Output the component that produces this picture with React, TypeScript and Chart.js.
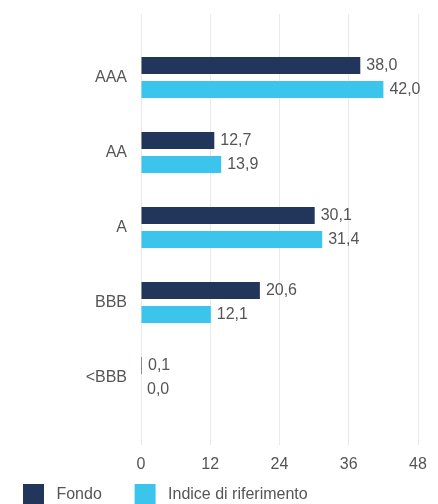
import React, { useEffect, useRef } from "react";
import { Chart, registerables } from "chart.js";

Chart.register(...registerables);

const categories = ["AAA", "AA", "A", "BBB", "<BBB"];
const fondo = [38.0, 12.7, 30.1, 20.6, 0.1];
const indice = [42.0, 13.9, 31.4, 12.1, 0.0];
const seriesNames = ["Fondo", "Indice di riferimento"];
const xTickStep = 12;
const xMin = 0;
const xMax = 48;

const FONT = "'Liberation Sans', Arial, sans-serif";
const TEXT = "#555555";
const DARK = "#22355b";
const CYAN = "#3bc5ec";
const GRID = "#e9e9e9";

const valueLabels = {
  id: "valueLabels",
  afterDatasetsDraw(chart: any) {
    const ctx = chart.ctx;
    ctx.save();
    ctx.font = `16px ${FONT}`;
    ctx.fillStyle = TEXT;
    ctx.textBaseline = "middle";
    ctx.textAlign = "left";
    chart.data.datasets.forEach((ds: any, di: number) => {
      const meta = chart.getDatasetMeta(di);
      meta.data.forEach((el: any, i: number) => {
        const v = ds.data[i].x as number;
        ctx.fillText(v.toFixed(1).replace(".", ","), el.x + 6, el.y);
      });
    });
    ctx.restore();
  },
};

export default function App() {
  const ref = useRef<HTMLCanvasElement | null>(null);

  useEffect(() => {
    document.body.style.overflow = "hidden";
    document.documentElement.style.overflow = "hidden";
    if (!ref.current) return;
    const chart = new Chart(ref.current, {
      type: "bar",
      data: {
        datasets: [
          {
            label: seriesNames[0],
            data: fondo.map((v, i) => ({ x: v, y: i })),
            backgroundColor: DARK,
            borderWidth: 0,
            minBarLength: 1,
            categoryPercentage: 0.64,
            barPercentage: 0.71,
          },
          {
            label: seriesNames[1],
            data: indice.map((v, i) => ({ x: v, y: i })),
            backgroundColor: CYAN,
            borderWidth: 0,
            categoryPercentage: 0.64,
            barPercentage: 0.71,
          },
        ],
      },
      options: {
        indexAxis: "y",
        animation: false,
        responsive: true,
        maintainAspectRatio: false,
        layout: { padding: { top: 6, right: 12, bottom: 0, left: 0 } },
        scales: {
          y: {
            type: "linear",
            reverse: true,
            min: -0.847,
            max: 4.9,
            offset: false,
            afterBuildTicks: (axis: any) => {
              axis.ticks = categories.map((_, i) => ({ value: i }));
            },
            afterFit: (axis: any) => {
              axis.width = 133;
              axis.paddingTop = 0;
              axis.paddingBottom = 0;
            },
            ticks: {
              callback: (v: any) => categories[v as number],
              padding: 14,
              color: TEXT,
              font: { family: FONT, size: 16 },
            },
            grid: { display: false, drawTicks: false, offset: false },
            border: { display: false },
          },
          x: {
            type: "linear",
            min: xMin,
            max: xMax,
            afterFit: (axis: any) => {
              axis.height = 24;
              axis.paddingLeft = 0;
              axis.paddingRight = 0;
            },
            ticks: {
              stepSize: xTickStep,
              padding: 16,
              color: TEXT,
              font: { family: FONT, size: 16, lineHeight: 0.5 },
            },
            grid: { color: GRID, drawTicks: false, lineWidth: 1 },
            border: { display: false },
          },
        },
        plugins: {
          tooltip: { enabled: false },
          legend: {
            position: "bottom",
            align: "start",
            labels: {
              boxWidth: 21,
              boxHeight: 21,
              padding: 15,
              color: TEXT,
              font: { family: FONT, size: 16 },
              generateLabels: (c: any) => {
                const items = (Chart.defaults.plugins.legend.labels as any).generateLabels(c);
                return items.map((it: any, i: number) => ({
                  ...it,
                  lineWidth: 0,
                  text: " " + it.text + (i < items.length - 1 ? "    " : ""),
                }));
              },
            },
          },
        },
      },
      plugins: [valueLabels],
    } as any);
    return () => chart.destroy();
  }, []);

  return (
    <div style={{ position: "relative", width: "100%", height: 507 }}>
      <canvas ref={ref} />
    </div>
  );
}
